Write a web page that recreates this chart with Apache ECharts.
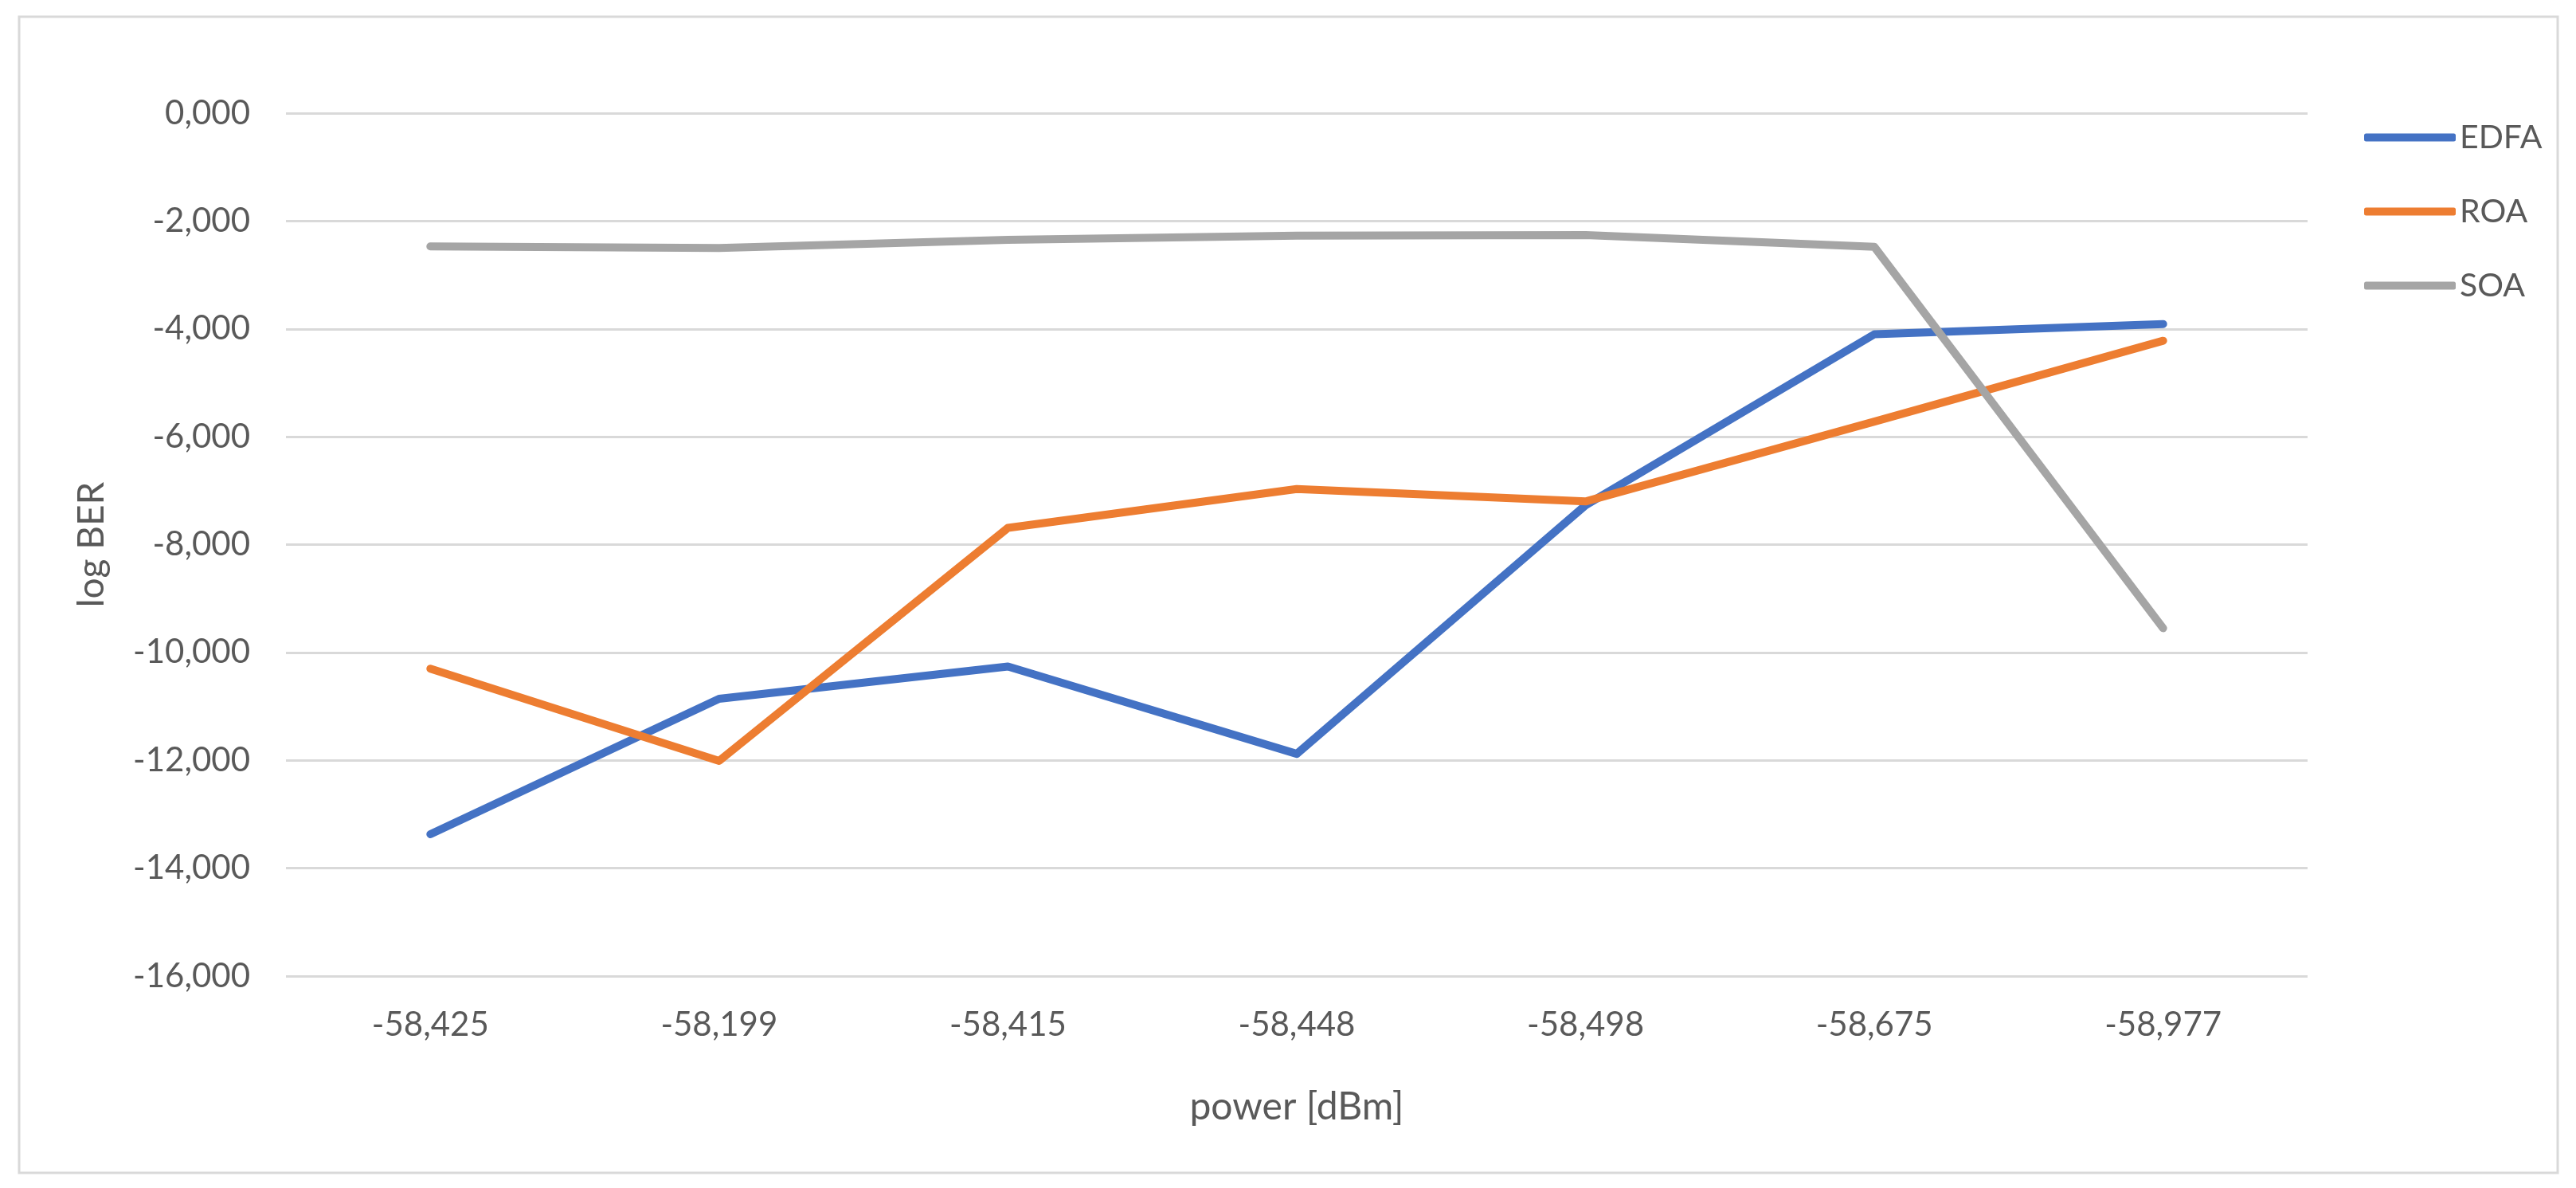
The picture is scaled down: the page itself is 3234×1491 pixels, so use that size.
<!DOCTYPE html>
<html>
<head>
<meta charset="utf-8">
<script src="https://cdn.jsdelivr.net/npm/echarts@6/dist/echarts.min.js"></script>
<style>
html,body{margin:0;padding:0;background:#fff;}
#chart{width:3234px;height:1491px;}
</style>
</head>
<body>
<div id="chart"></div>
<script>
const categories = ['-58,425', '-58,199', '-58,415', '-58,448', '-58,498', '-58,675', '-58,977'];
const edfa = [-13.37, -10.86, -10.26, -11.88, -7.27, -4.10, -3.91];
const roa  = [-10.30, -12.01, -7.69, -6.97, -7.20, -5.72, -4.22];
const soa  = [-2.47, -2.50, -2.35, -2.27, -2.26, -2.48, -9.55];
const seriesNames = ['EDFA', 'ROA', 'SOA'];
const xTitle = 'power [dBm]';
const yTitle = 'log BER';

const FONT = 'Lato, "Open Sans", sans-serif';
const TXT = '#595959';
const colors = ['#4472C4', '#ED7D31', '#A5A5A5'];

const chart = echarts.init(document.getElementById('chart'), null, {renderer: 'canvas'});

function mkSeries(name, data, color) {
  return {
    name: name, type: 'line', data: data,
    showSymbol: false, symbol: 'none',
    lineStyle: {color: color, width: 10, cap: 'round', join: 'round'},
    itemStyle: {color: color},
    emphasis: {disabled: true}
  };
}

chart.setOption({
  animation: false,
  backgroundColor: '#fff',
  color: colors,
  graphic: [{
    type: 'rect',
    shape: {x: 24, y: 21, width: 3187, height: 1451},
    style: {fill: 'none', stroke: '#D9D9D9', lineWidth: 3},
    silent: true
  }],
  grid: {left: 359, top: 142, width: 2538, height: 1083, containLabel: false},
  legend: {
    orient: 'vertical',
    left: 2963, top: 147,
    itemWidth: 115, itemHeight: 10,
    itemGap: 52,
    icon: 'roundRect',
    textStyle: {fontFamily: FONT, fontSize: 41, color: TXT, lineHeight: 40},
    data: seriesNames
  },
  xAxis: {
    type: 'category',
    data: categories,
    boundaryGap: true,
    axisLine: {show: false},
    axisTick: {show: false},
    splitLine: {show: false},
    axisLabel: {fontFamily: FONT, fontSize: 42, color: TXT, margin: 40},
    name: xTitle,
    nameLocation: 'middle',
    nameGap: 165,
    nameTextStyle: {fontFamily: FONT, fontSize: 48, color: TXT, verticalAlign: 'middle'}
  },
  yAxis: {
    type: 'value',
    min: -16, max: 0, interval: 2,
    axisLine: {show: false},
    axisTick: {show: false},
    splitLine: {show: true, lineStyle: {color: '#D9D9D9', width: 3}},
    axisLabel: {
      fontFamily: FONT, fontSize: 42, color: TXT, margin: 45,
      formatter: v => v.toFixed(3).replace('.', ',')
    },
    name: yTitle,
    nameLocation: 'middle',
    nameGap: 244,
    nameRotate: 90,
    nameTextStyle: {fontFamily: FONT, fontSize: 46, color: TXT, verticalAlign: 'middle'}
  },
  series: [
    mkSeries(seriesNames[0], edfa, colors[0]),
    mkSeries(seriesNames[1], roa, colors[1]),
    mkSeries(seriesNames[2], soa, colors[2])
  ]
});
</script>
</body>
</html>
